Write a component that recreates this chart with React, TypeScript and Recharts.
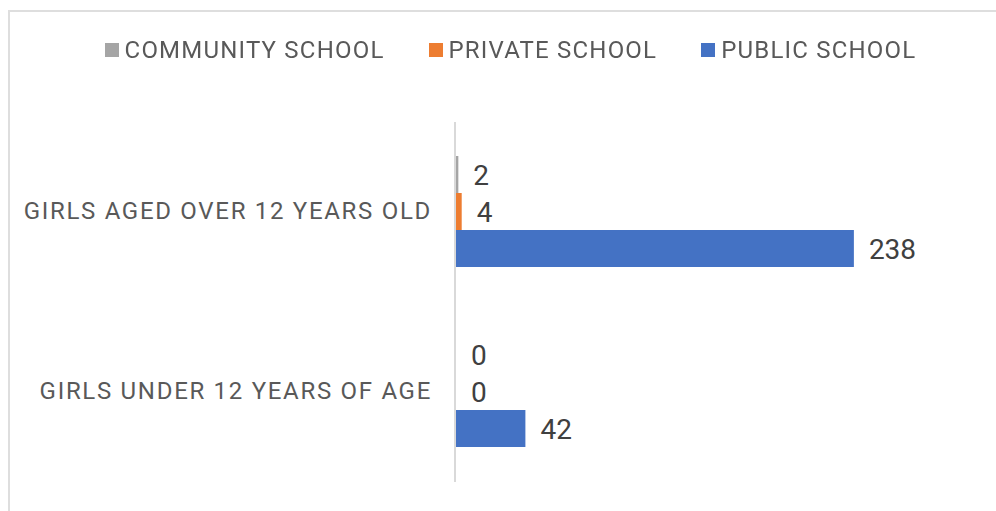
import React from 'react';
import { BarChart, Bar, XAxis, YAxis, Legend, LabelList, Rectangle } from 'recharts';

const categories = ['GIRLS AGED OVER 12 YEARS OLD', 'GIRLS UNDER 12 YEARS OF AGE'];
const communitySchool = [2, 0];
const privateSchool = [4, 0];
const publicSchool = [238, 42];
const seriesNames = ['COMMUNITY SCHOOL', 'PRIVATE SCHOOL', 'PUBLIC SCHOOL'];
const seriesKeys = ['community', 'private', 'public'];
const colors = ['#A5A5A5', '#ED7D31', '#4472C4'];

const font = 'Roboto, "Noto Sans", sans-serif';

const data = categories.map((name, i) => ({
  name,
  community: communitySchool[i],
  private: privateSchool[i],
  public: publicSchool[i]
}));

function ChartLegend() {
  return <div style={{
    display: 'flex',
    justifyContent: 'center',
    paddingLeft: 25,
    gap: 44,
    fontFamily: font,
    fontSize: 24,
    color: '#595959',
    letterSpacing: 1.2
  }}>
      {seriesNames.map((n, i) => <div key={n} style={{ display: 'flex', alignItems: 'center' }}>
          <span style={{ width: 14, height: 14, background: colors[i], marginRight: 6, display: 'inline-block' }} />
          <span>{n}</span>
        </div>)}
    </div>;
}

// hide the stub bar drawn for zero values, keep its label
const barShape = (k: string) => (p: any) => p.payload && p.payload[k] === 0 ? <g /> : <Rectangle {...p} />;

export default function App() {
  return <div>
      <div style={{
      position: 'fixed',
      left: 8,
      top: 10,
      width: 1100,
      height: 700,
      border: '2px solid #dedede',
      background: '#fff'
    }} />
      <div style={{ position: 'fixed', left: 0, top: 0 }}>
        <BarChart width={996} height={511} data={data} layout="vertical" margin={{ top: 122, right: 122, bottom: 29, left: 0 }} barCategoryGap={34} barGap={0}>
          <XAxis type="number" domain={[0, 250]} hide />
          <YAxis type="category" dataKey="name" width={455} axisLine={{ stroke: '#d9d9d9', strokeWidth: 2 }} tickLine={false} tickMargin={17} tick={{ fill: '#595959', fontSize: 24, fontFamily: font, letterSpacing: 1.7, dy: -2 }} />
          <Legend verticalAlign="middle" align="center" layout="horizontal" wrapperStyle={{ top: 36, left: 0, width: 996 }} content={() => <ChartLegend />} />
          {seriesKeys.map((k, i) => <Bar key={k} dataKey={k} name={seriesNames[i]} fill={colors[i]} minPointSize={1} shape={barShape(k)} isAnimationActive={false}>
              <LabelList dataKey={k} position="right" offset={15} fill="#404040" fontSize={28} fontFamily={font} dy={1} />
            </Bar>)}
        </BarChart>
      </div>
    </div>;
}
